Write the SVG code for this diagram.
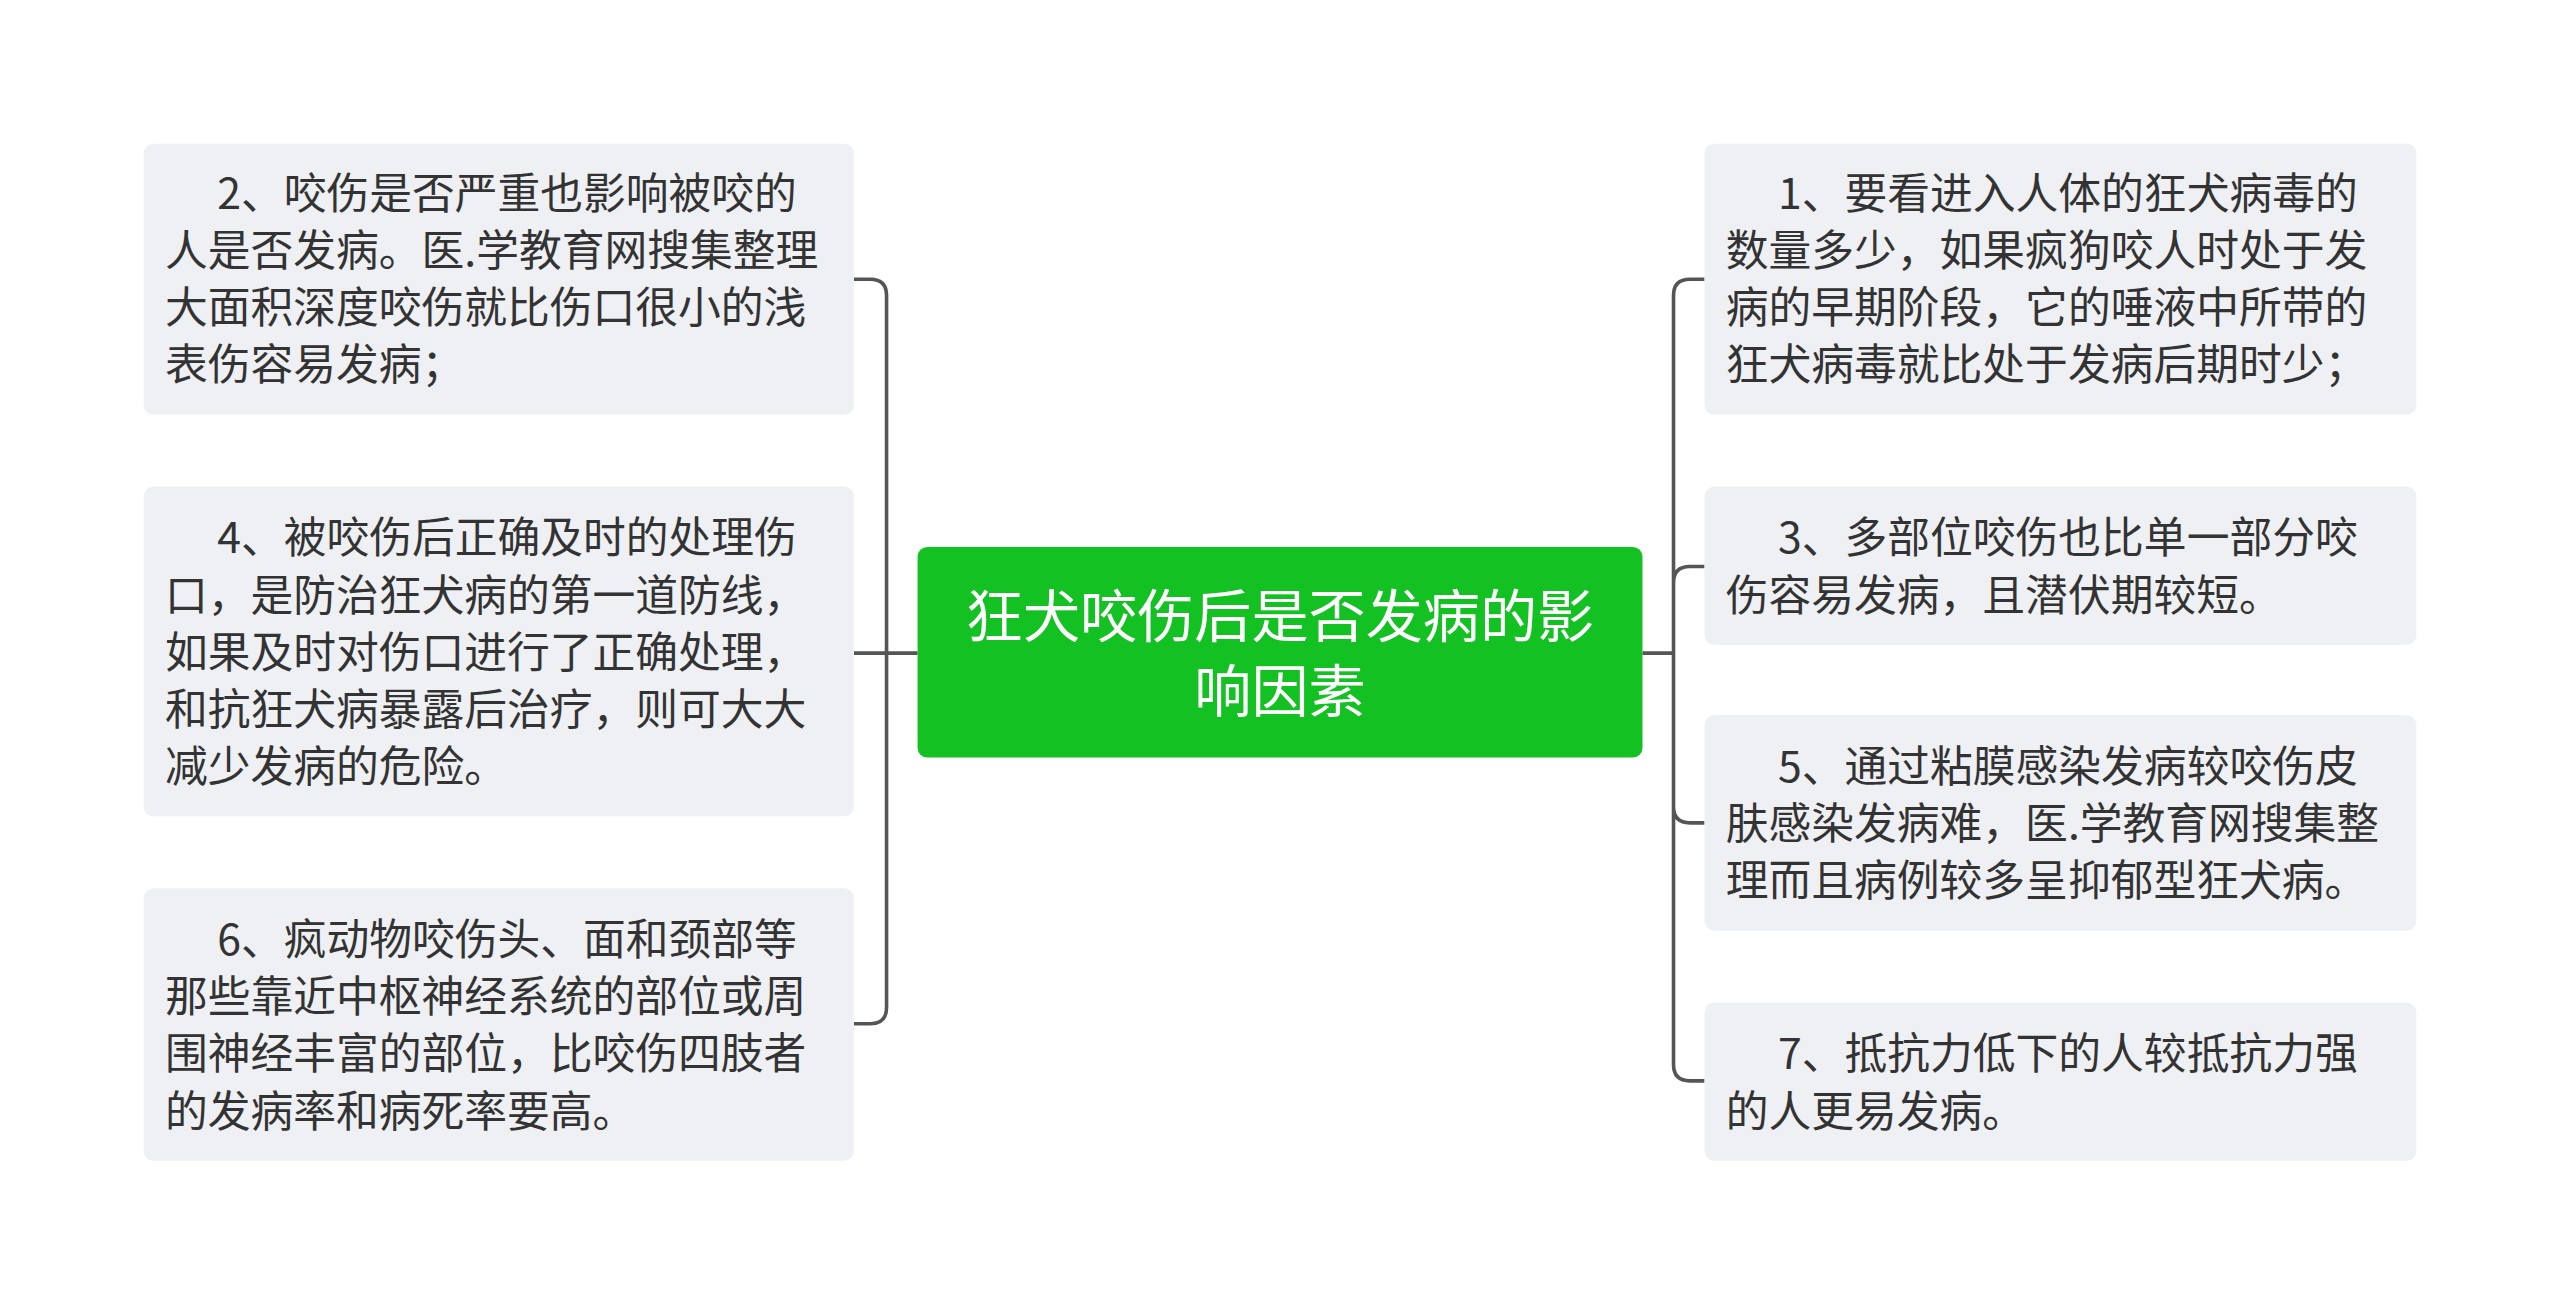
<svg xmlns="http://www.w3.org/2000/svg" width="2560" height="1304" viewBox="0 0 2560 1304">
<style>
.n{fill:#eef0f3}
.t{font-family:"Noto Sans CJK SC","Liberation Sans",sans-serif;font-size:26.2px;fill:#333}
.c{font-family:"Noto Sans CJK SC","Liberation Sans",sans-serif;font-size:35px;fill:#fff;text-anchor:middle}
.l{fill:none;stroke:#555;stroke-width:2.2}
</style>
<rect width="2560" height="1304" fill="#fff"/>
<g transform="scale(1.6327)">
<g id="connectors">
<path class="l" d="M562 400H543M543 400V181Q543 171 533 171H523M543 400V617Q543 627 533 627H523M543 400H523"/>
<path class="l" d="M1006 400H1025M1025 400V181Q1025 171 1035 171H1044M1025 357Q1025 347 1035 347H1044M1025 400V494Q1025 504 1035 504H1044M1025 400V652Q1025 662 1035 662H1044"/>
</g>
<g id="center"><rect x="562" y="335" width="444" height="129" rx="6" fill="#13c123"/>
<text class="c" x="784" y="390">狂犬咬伤后是否发病的影</text><text class="c" x="784" y="436">响因素</text></g>
<g id="n2"><rect class="n" x="88" y="88" width="435" height="166" rx="6"/>
<text class="t" x="133" y="128">2、咬伤是否严重也影响被咬的</text><text class="t" x="101" y="163">人是否发病。医.学教育网搜集整理</text><text class="t" x="101" y="198">大面积深度咬伤就比伤口很小的浅</text><text class="t" x="101" y="233">表伤容易发病；</text></g>
<g id="n4"><rect class="n" x="88" y="298" width="435" height="202" rx="6"/>
<text class="t" x="133" y="339">4、被咬伤后正确及时的处理伤</text><text class="t" x="101" y="374">口，是防治狂犬病的第一道防线，</text><text class="t" x="101" y="409">如果及时对伤口进行了正确处理，</text><text class="t" x="101" y="444">和抗狂犬病暴露后治疗，则可大大</text><text class="t" x="101" y="479">减少发病的危险。</text></g>
<g id="n6"><rect class="n" x="88" y="544" width="435" height="167" rx="6"/>
<text class="t" x="133" y="585">6、疯动物咬伤头、面和颈部等</text><text class="t" x="101" y="620">那些靠近中枢神经系统的部位或周</text><text class="t" x="101" y="655">围神经丰富的部位，比咬伤四肢者</text><text class="t" x="101" y="690">的发病率和病死率要高。</text></g>
<g id="n1"><rect class="n" x="1044" y="88" width="436" height="166" rx="6"/>
<text class="t" x="1089" y="128">1、要看进入人体的狂犬病毒的</text><text class="t" x="1057" y="163">数量多少，如果疯狗咬人时处于发</text><text class="t" x="1057" y="198">病的早期阶段，它的唾液中所带的</text><text class="t" x="1057" y="233">狂犬病毒就比处于发病后期时少；</text></g>
<g id="n3"><rect class="n" x="1044" y="298" width="436" height="97" rx="6"/>
<text class="t" x="1089" y="339">3、多部位咬伤也比单一部分咬</text><text class="t" x="1057" y="374">伤容易发病，且潜伏期较短。</text></g>
<g id="n5"><rect class="n" x="1044" y="438" width="436" height="132" rx="6"/>
<text class="t" x="1089" y="479">5、通过粘膜感染发病较咬伤皮</text><text class="t" x="1057" y="514">肤感染发病难，医.学教育网搜集整</text><text class="t" x="1057" y="549">理而且病例较多呈抑郁型狂犬病。</text></g>
<g id="n7"><rect class="n" x="1044" y="614" width="436" height="97" rx="6"/>
<text class="t" x="1089" y="655">7、抵抗力低下的人较抵抗力强</text><text class="t" x="1057" y="690">的人更易发病。</text></g>
</g>
</svg>
